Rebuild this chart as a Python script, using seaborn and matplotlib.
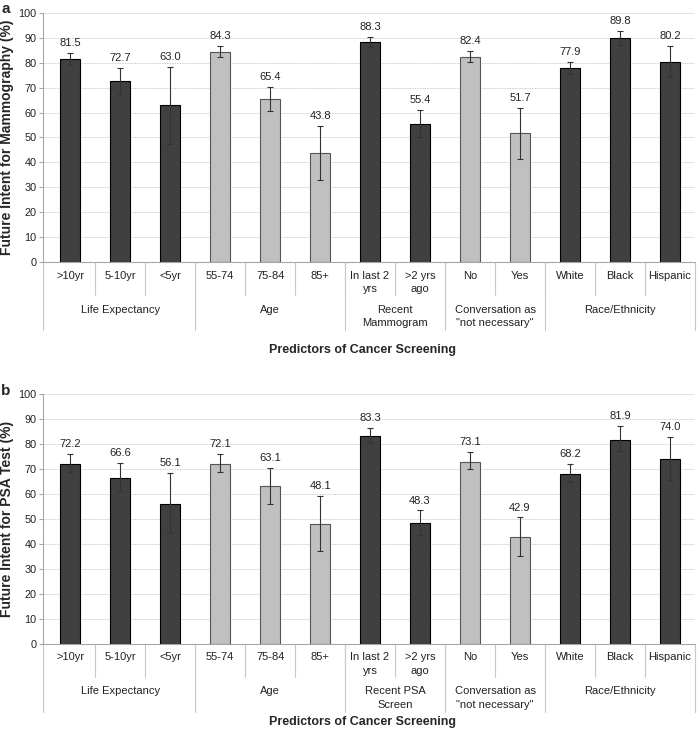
import matplotlib.pyplot as plt
import numpy as np
import pandas as pd
import seaborn as sns

categories = [">10yr", "5-10yr", "<5yr", "55-74", "75-84", "85+",
              "In last 2\nyrs", ">2 yrs\nago", "No", "Yes", "White", "Black", "Hispanic"]
shade = ["dark"] * 3 + ["light"] * 3 + ["dark"] * 2 + ["light"] * 2 + ["dark"] * 3

groups_a = ["Life Expectancy", "Age", "Recent\nMammogram", 'Conversation as\n"not necessary"', "Race/Ethnicity"]
groups_b = ["Life Expectancy", "Age", "Recent PSA\nScreen", 'Conversation as\n"not necessary"', "Race/Ethnicity"]
group_sizes = [3, 3, 2, 2, 3]

mammo = [81.5, 72.7, 63.0, 84.3, 65.4, 43.8, 88.3, 55.4, 82.4, 51.7, 77.9, 89.8, 80.2]
mammo_lo = [79.0, 67.4, 47.4, 82.1, 60.6, 32.8, 86.1, 50.2, 80.4, 41.5, 75.4, 87.0, 74.1]
mammo_hi = [84.0, 78.0, 78.4, 86.6, 70.1, 54.6, 90.4, 60.9, 84.6, 61.9, 80.4, 92.7, 86.6]

psa = [72.2, 66.6, 56.1, 72.1, 63.1, 48.1, 83.3, 48.3, 73.1, 42.9, 68.2, 81.9, 74.0]
psa_lo = [69.0, 61.4, 44.3, 68.8, 56.1, 37.2, 80.6, 43.5, 70.0, 35.4, 64.8, 77.3, 65.6]
psa_hi = [76.0, 72.4, 68.4, 76.0, 70.4, 59.3, 86.4, 53.5, 76.8, 50.7, 72.2, 87.3, 82.9]

DARK = "#404040"
LIGHT = "#c0c0c0"
AXIS_GRAY = "#a6a6a6"
TXT = "#222222"

sns.set_theme(style="white")
plt.rcParams["font.family"] = ["Liberation Sans", "DejaVu Sans"]


def draw_panel(ax, vals, lo, hi, groups, ylabel, letter, xlabel_off):
    df = pd.DataFrame({"cat": categories, "val": vals, "shade": shade})
    sns.barplot(data=df, x="cat", y="val", hue="shade", order=categories,
                palette={"dark": DARK, "light": LIGHT}, dodge=False,
                width=0.41, legend=False, ax=ax, zorder=2)
    for p in ax.patches:
        r, g, b, _ = p.get_facecolor()
        p.set_edgecolor("#000000" if r < 0.5 else "#555555")
        p.set_linewidth(0.8)

    vals = np.array(vals)
    xs = np.arange(len(categories))
    ax.errorbar(xs, vals, yerr=[vals - np.array(lo), np.array(hi) - vals],
                fmt="none", ecolor="#333333", elinewidth=0.8, capsize=2.5,
                capthick=0.8, zorder=3)
    for x, v, h in zip(xs, vals, hi):
        ax.annotate(f"{v:.1f}", xy=(x, h), xytext=(0, 3.5), textcoords="offset points",
                    ha="center", va="bottom", fontsize=8, color=TXT)

    ax.set_ylim(0, 100)
    ax.set_yticks(range(0, 101, 10))
    ax.set_xlim(-0.54, 12.5)
    ax.yaxis.grid(True, linestyle=(0, (1, 1)), color="#bdbdbd", linewidth=0.6)
    ax.set_axisbelow(True)
    for side in ("top", "right"):
        ax.spines[side].set_visible(False)
    for side in ("left", "bottom"):
        ax.spines[side].set_color(AXIS_GRAY)
        ax.spines[side].set_linewidth(0.8)
    ax.tick_params(axis="y", length=3, width=0.8, color=AXIS_GRAY, labelsize=7.8, pad=2,
                   left=True, labelcolor=TXT)
    ax.tick_params(axis="x", length=0, labelsize=8, pad=6, labelcolor=TXT)
    for lab in ax.get_xticklabels():
        lab.set_linespacing(1.45)
    ax.set_xlabel("")
    ax.set_ylabel(ylabel, fontsize=10, fontweight="bold", labelpad=3)

    trans = ax.get_xaxis_transform()
    # separators between categories
    for x in xs[:-1] + 0.5:
        ax.plot([x, x], [0, -0.132], transform=trans, color="#c8c8c8", lw=0.8, clip_on=False)
    # group separators and group labels
    start = 0
    bounds = [-0.54]
    for name, n in zip(groups, group_sizes):
        end = start + n
        bounds.append(end - 0.5)
        ax.annotate(name, xy=((start + end - 1) / 2, 0), xycoords=trans,
                    xytext=(0, -30.5), textcoords="offset points", ha="center", va="top",
                    fontsize=8, color=TXT, linespacing=1.45)
        start = end
    bounds[-1] = 12.5
    for x in bounds:
        ax.plot([x, x], [0, -0.272], transform=trans, color="#c8c8c8", lw=0.8, clip_on=False)

    ax.annotate("Predictors of Cancer Screening", xy=(0.5, 0), xycoords="axes fraction",
                xytext=(-5, xlabel_off), textcoords="offset points", ha="center", va="center",
                fontsize=9, fontweight="bold")
    ax.annotate(letter, xy=(0, 1), xycoords="axes fraction", xytext=(-27, 2.5),
                textcoords="offset points", ha="center", va="center",
                fontsize=11, fontweight="bold")


fig = plt.figure(figsize=(6.97, 7.29), dpi=100)
ax_a = fig.add_axes([0.062, 0.6402, 0.935, 0.3424])
ax_b = fig.add_axes([0.062, 0.1166, 0.935, 0.3424])
draw_panel(ax_a, mammo, mammo_lo, mammo_hi, groups_a, "Future Intent for Mammography (%)", "a", -63)
draw_panel(ax_b, psa, psa_lo, psa_hi, groups_b, "Future Intent for PSA Test (%)", "b", -56)

fig.savefig("out.png", dpi=100)
